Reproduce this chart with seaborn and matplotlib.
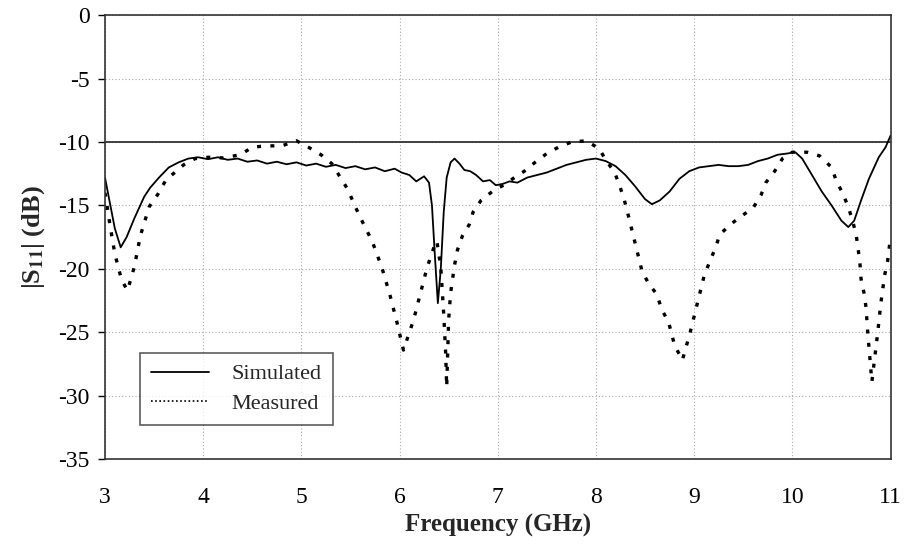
import numpy as np
import pandas as pd
import seaborn as sns
import matplotlib.pyplot as plt

# Simulated |S11|
sim_freq = [3.00, 3.05, 3.10, 3.16, 3.22, 3.30, 3.40, 3.46, 3.55, 3.65, 3.75, 3.85,
            3.95, 4.05, 4.15, 4.25, 4.35, 4.45, 4.55, 4.65, 4.75, 4.85, 4.95, 5.05,
            5.15, 5.25, 5.35, 5.45, 5.55, 5.65, 5.75, 5.85, 5.95, 6.02, 6.10, 6.17,
            6.25, 6.30, 6.33, 6.36, 6.39, 6.42, 6.45, 6.48, 6.52, 6.56, 6.61, 6.66,
            6.72, 6.78, 6.85, 6.92, 6.98, 7.05, 7.12, 7.20, 7.30, 7.40, 7.50, 7.60,
            7.70, 7.80, 7.90, 8.00, 8.10, 8.20, 8.30, 8.40, 8.50, 8.57, 8.65, 8.75,
            8.85, 8.95, 9.05, 9.15, 9.25, 9.35, 9.45, 9.55, 9.65, 9.75, 9.85, 9.95,
            10.03, 10.10, 10.20, 10.30, 10.40, 10.50, 10.57, 10.63, 10.70, 10.78,
            10.88, 10.95, 11.00]
sim_db = [-12.8, -14.8, -16.8, -18.3, -17.5, -16.0, -14.3, -13.6, -12.8, -12.0, -11.6, -11.3,
          -11.2, -11.35, -11.2, -11.4, -11.3, -11.55, -11.45, -11.7, -11.55, -11.75, -11.6, -11.85,
          -11.7, -11.95, -11.8, -12.05, -11.9, -12.15, -12.0, -12.3, -12.1, -12.4, -12.6, -13.1,
          -12.7, -13.2, -15.0, -19.0, -22.7, -20.0, -15.5, -12.8, -11.6, -11.3, -11.7, -12.2,
          -12.3, -12.6, -13.1, -13.0, -13.4, -13.3, -13.1, -13.2, -12.8, -12.6, -12.4, -12.1,
          -11.8, -11.6, -11.4, -11.3, -11.5, -11.9, -12.6, -13.5, -14.5, -14.9, -14.6, -13.9,
          -12.9, -12.3, -12.0, -11.9, -11.8, -11.9, -11.9, -11.8, -11.5, -11.3, -11.0, -10.9,
          -10.8, -11.3, -12.6, -13.9, -15.0, -16.2, -16.7, -16.2, -14.6, -12.9,
          -11.2, -10.4, -9.5]

# Measured |S11|
meas_freq = [3.00, 3.05, 3.10, 3.17, 3.23, 3.30, 3.36, 3.45, 3.54, 3.62, 3.71, 3.80,
             3.92, 4.05, 4.20, 4.38, 4.50, 4.65, 4.80, 4.95, 5.07, 5.20, 5.31, 5.39,
             5.47, 5.59, 5.72, 5.82, 5.90, 5.97, 6.04, 6.10, 6.14, 6.21, 6.28, 6.35,
             6.38, 6.42, 6.45, 6.47, 6.48, 6.50, 6.52, 6.56, 6.59, 6.64, 6.71, 6.75,
             6.83, 6.96, 7.06, 7.17, 7.27, 7.38, 7.50, 7.62, 7.75, 7.90, 8.03, 8.10,
             8.19, 8.24, 8.29, 8.33, 8.40, 8.47, 8.54, 8.62, 8.67, 8.74, 8.80, 8.88,
             8.96, 9.03, 9.10, 9.16, 9.22, 9.26, 9.37, 9.47, 9.60, 9.68, 9.73, 9.82,
             9.90, 10.00, 10.15, 10.28, 10.40, 10.45, 10.51, 10.57, 10.62, 10.65, 10.67,
             10.69, 10.70, 10.73, 10.75, 10.76, 10.77, 10.81, 10.87, 10.90, 10.94,
             10.97, 11.00]
meas_db = [-14.0, -16.5, -18.8, -20.9, -21.7, -19.8, -17.4, -15.1, -14.1, -13.0, -12.4, -11.8,
           -11.3, -11.2, -11.25, -11.0, -10.4, -10.3, -10.3, -9.9, -10.4, -11.0, -11.7, -12.7,
           -13.7, -15.8, -17.8, -19.9, -22.0, -24.1, -26.4, -25.0, -24.1, -22.0, -19.9, -18.3,
           -17.8, -19.9, -23.6, -26.7, -29.3, -24.0, -21.9, -19.7, -18.5, -17.4, -16.5, -15.5,
           -14.6, -13.8, -13.4, -12.8, -12.3, -11.6, -10.9, -10.4, -10.0, -9.9, -10.5, -11.4,
           -12.4, -13.4, -14.6, -15.8, -18.0, -20.2, -21.2, -22.0, -23.2, -24.2, -26.0, -27.2,
           -25.0, -22.8, -20.6, -19.4, -18.3, -17.3, -16.5, -15.9, -15.2, -14.2, -13.2, -12.3,
           -11.3, -10.8, -10.8, -11.1, -12.0, -13.1, -14.0, -15.1, -16.4, -17.3, -18.4,
           -19.7, -20.8, -21.9, -23.0, -24.1, -25.2, -28.9, -25.0, -22.8, -20.5,
           -19.4, -17.5]

x_ticks = [3, 4, 5, 6, 7, 8, 9, 10, 11]
y_ticks = [0, -5, -10, -15, -20, -25, -30, -35]
threshold = -10


def plot_s11():
    """Plot simulated and measured return loss."""
    sns.set_style("white")
    plt.rcParams['font.family'] = ['Liberation Serif', 'DejaVu Serif']
    plt.rcParams['mathtext.fontset'] = 'stix'
    plt.rcParams['axes.unicode_minus'] = False

    fig = plt.figure(figsize=(9.05, 5.44), dpi=100)
    ax = fig.add_axes([0.116, 0.156, 0.868, 0.816])

    sim = pd.DataFrame({'freq': sim_freq, 'db': sim_db})
    meas = pd.DataFrame({'freq': meas_freq, 'db': meas_db})

    sns.lineplot(data=sim, x='freq', y='db', ax=ax, color='black', lw=1.3,
                 label='Simulated')
    sns.lineplot(data=meas, x='freq', y='db', ax=ax, color='black', lw=2.4,
                 linestyle=(0, (1.2, 2.8)), label='Measured')
    ax.axhline(threshold, color='#333333', lw=1.3, zorder=1)

    ax.set_xlim(3, 11)
    ax.set_ylim(-35, 0)
    ax.set_xticks(x_ticks)
    ax.set_yticks(y_ticks)
    ax.tick_params(axis='both', labelsize=17, colors='black')
    ax.tick_params(axis='y', direction='out', length=5, width=1, left=True, pad=6)
    ax.tick_params(axis='x', length=0, pad=20)
    ax.grid(True, color='#aaaaaa', linestyle=(0, (1, 2)), lw=0.8)

    for side in ax.spines.values():
        side.set_color('#333333')
        side.set_linewidth(1.2)

    ax.set_xlabel('Frequency (GHz)', fontsize=18, fontweight='bold', labelpad=4)
    ax.set_ylabel(r'|S$_{\mathbf{11}}$| (dB)', fontsize=19, fontweight='bold',
                  labelpad=8)

    leg = ax.legend(loc='lower left', bbox_to_anchor=(0.045, 0.077),
                    borderaxespad=0, fontsize=16, frameon=True, fancybox=False,
                    handlelength=2.6, handletextpad=1.0, borderpad=0.5,
                    labelspacing=0.4)
    leg.get_frame().set_edgecolor('#333333')
    leg.get_frame().set_linewidth(1.2)
    leg.legend_handles[1].set_linewidth(1.2)
    leg.legend_handles[1].set_linestyle((0, (1, 1.5)))

    fig.savefig('out.png', dpi=100)
    plt.close(fig)


if __name__ == "__main__":
    plot_s11()
